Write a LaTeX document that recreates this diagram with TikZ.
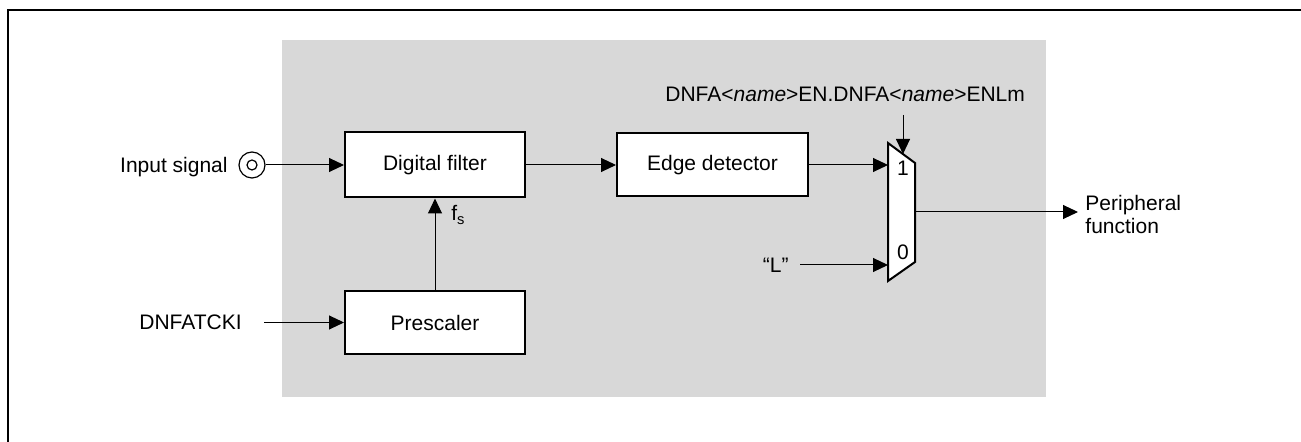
\documentclass[tikz,border=0pt]{standalone}
\usepackage{fontspec}
\setmainfont{Liberation Sans}
\usetikzlibrary{arrows.meta,positioning}
\definecolor{bggray}{RGB}{216,216,216}
\tikzset{>={Triangle[length=7.5pt,width=7pt]}}
\tikzset{blockbox/.style={draw,line width=1pt,fill=white,inner sep=0pt},
  sig/.style={line width=0.5pt,->},
  lbl/.style={inner sep=0pt}}

\begin{document}
\begin{tikzpicture}[x=0.5pt,y=-0.5pt,font=\fontsize{10.5}{11.5}\selectfont]
\useasboundingbox (0,0) rectangle (1301,442);

% Frame
\draw[line width=1.2pt] (8,442) -- (8,10) -- (1301,10);

% Shaded area
\fill[bggray] (282,40) rectangle (1046,397);

% Blocks
\node[blockbox,minimum width=90pt,minimum height=32.5pt] (filter) at (435,165) {Digital filter};
\node[blockbox,minimum width=95.5pt,minimum height=31.5pt] (edge) at (712.5,165) {Edge detector};
\node[blockbox,minimum width=90pt,minimum height=31.5pt] (pre) at (435,322.5) {Prescaler};

% Selector
\coordinate (MA) at (888,143);
\coordinate (MB) at (915,163);
\coordinate (MC) at (915,262);
\coordinate (MD) at (888,281);
\filldraw[fill=white,line width=1pt] (MA) -- (MB) -- (MC) -- (MD) -- cycle;
\node[lbl,anchor=base] (one) at (903,176) {1};
\node[lbl,anchor=base] (zero) at (903,260) {0};

\coordinate (in1) at (888,165);
\coordinate (in0) at (888,265);
\coordinate (selin) at (903,115);
\coordinate (selend) at (903,154);
\coordinate (muxout) at (915,212);
\coordinate (outend) at (1078,212);

% Input pin
\node[circle,draw,line width=0.6pt,minimum size=13pt,inner sep=0pt] (pin) at (252,165) {};
\node[circle,draw,line width=0.6pt,minimum size=5pt,inner sep=0pt] (pinin) at (pin.center) {};

% Texts
\node[lbl,anchor=base east] (insig) at (228,172.5) {Input signal};
\node[lbl,anchor=base west] (clk) at (139,329.5) {DNFATCKI};
\coordinate (clkend) at (264,322.5);
\node[lbl,anchor=base west] (fs) at (451,221) {f\textsubscript{s}};
\node[lbl,anchor=base west] (enable) at (665,102) {DNFA<\textit{name}>EN.DNFA<\textit{name}>ENLm};
\node[lbl,anchor=base east] (low) at (789,272.5) {“L”};
\coordinate (lowend) at (800,265);
\node[lbl,anchor=west,align=left] (periph) at (1085,214) {Peripheral\\function};

% Connections
\draw[sig] (pin.east) -- (filter.west);
\draw[sig] (clkend) -- (pre.west);
\draw[sig] (pre.north) -- (filter.south);
\draw[sig] (filter.east) -- (edge.west);
\draw[sig] (edge.east) -- (in1);
\draw[sig] (lowend) -- (in0);
\draw[sig] (selin) -- (selend);
\draw[sig] (muxout) -- (outend);
\end{tikzpicture}
\end{document}
